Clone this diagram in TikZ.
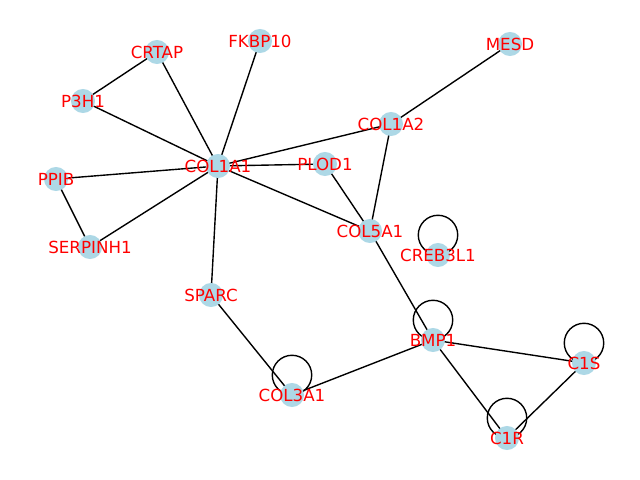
\documentclass[tikz,border=0pt]{standalone}
\usepackage{fontspec}
\setmainfont{DejaVu Sans}
\usepackage{xcolor}
\usetikzlibrary{backgrounds}
\definecolor{nodeblue}{HTML}{ADD8E6}

\begin{document}
\begin{tikzpicture}[x=0.72pt, y=-0.72pt,
            gene/.style={circle, fill=nodeblue, minimum size=17.3pt, inner sep=0pt, text=red, font=\fontsize{12}{14}\selectfont},
            link/.style={black, line width=1pt},
            selfloop/.style={black, line width=1pt}]

            \useasboundingbox (0,0) rectangle (640,480);

            \node[gene] (crtap) at (157,52) {\makebox[0pt]{CRTAP}};
            \node[gene] (fkbp10) at (260,41) {\makebox[0pt]{FKBP10}};
            \node[gene] (mesd) at (510,44) {\makebox[0pt]{MESD}};
            \node[gene] (p3h1) at (83,101) {\makebox[0pt]{P3H1}};
            \node[gene] (col1a2) at (391,124) {\makebox[0pt]{COL1A2}};
            \node[gene] (col1a1) at (218,166) {\makebox[0pt]{COL1A1}};
            \node[gene] (plod1) at (325,164) {\makebox[0pt]{PLOD1}};
            \node[gene] (ppib) at (56,179) {\makebox[0pt]{PPIB}};
            \node[gene] (col5a1) at (370,231) {\makebox[0pt]{COL5A1}};
            \node[gene] (creb3l1) at (438,255) {\makebox[0pt]{CREB3L1}};
            \node[gene] (serpinh1) at (90,247) {\makebox[0pt]{SERPINH1}};
            \node[gene] (sparc) at (211,295) {\makebox[0pt]{SPARC}};
            \node[gene] (bmp1) at (433,340) {\makebox[0pt]{BMP1}};
            \node[gene] (c1s) at (584,363) {\makebox[0pt]{C1S}};
            \node[gene] (col3a1) at (292,395) {\makebox[0pt]{COL3A1}};
            \node[gene] (c1r) at (507,438) {\makebox[0pt]{C1R}};

            \begin{scope}[on background layer]
                \draw[link] (crtap.center) -- (p3h1.center);
                \draw[link] (crtap.center) -- (col1a1.center);
                \draw[link] (fkbp10.center) -- (col1a1.center);
                \draw[link] (p3h1.center) -- (col1a1.center);
                \draw[link] (mesd.center) -- (col1a2.center);
                \draw[link] (col1a2.center) -- (col1a1.center);
                \draw[link] (col1a2.center) -- (col5a1.center);
                \draw[link] (col1a1.center) -- (plod1.center);
                \draw[link] (col1a1.center) -- (ppib.center);
                \draw[link] (col1a1.center) -- (serpinh1.center);
                \draw[link] (col1a1.center) -- (col5a1.center);
                \draw[link] (col1a1.center) -- (sparc.center);
                \draw[link] (ppib.center) -- (serpinh1.center);
                \draw[link] (plod1.center) -- (col5a1.center);
                \draw[link] (col5a1.center) -- (bmp1.center);
                \draw[link] (sparc.center) -- (col3a1.center);
                \draw[link] (col3a1.center) -- (bmp1.center);
                \draw[link] (bmp1.center) -- (c1s.center);
                \draw[link] (bmp1.center) -- (c1r.center);
                \draw[link] (c1r.center) -- (c1s.center);

                % self loops
                \foreach \g in {creb3l1, bmp1, c1s, col3a1, c1r}
                    \draw[selfloop] (\g.center) ++(0,-20) circle[radius=14.2pt];
            \end{scope}
        \end{tikzpicture}
\end{document}
